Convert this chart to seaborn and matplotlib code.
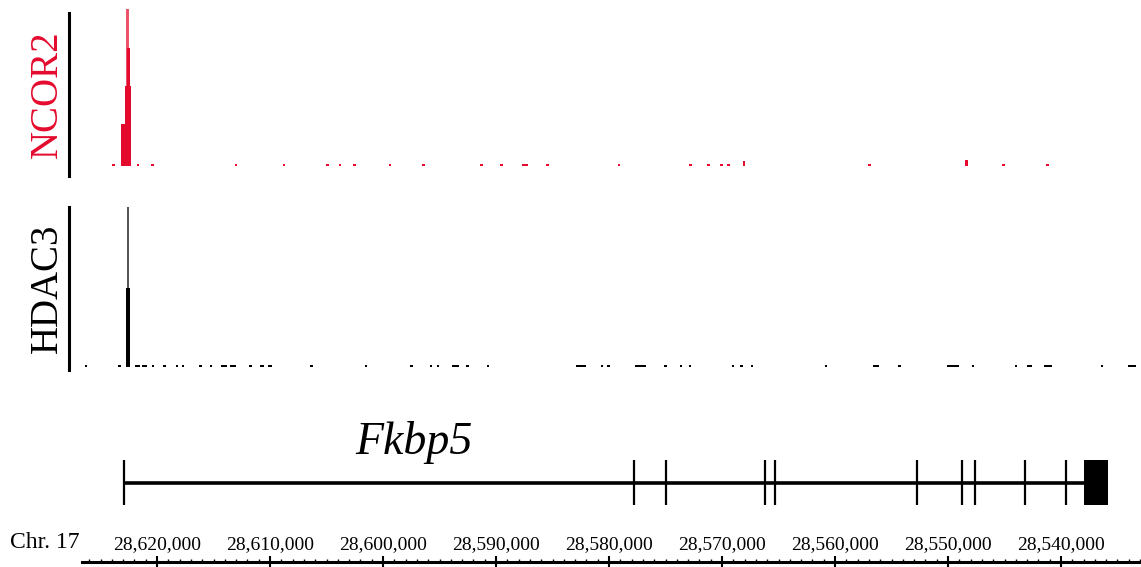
import matplotlib
matplotlib.use("Agg")
import matplotlib.pyplot as plt
import seaborn as sns
from matplotlib.ticker import MultipleLocator, FuncFormatter

# genome browser view on chr17, gene on the minus strand so coordinates run right to left
view_left = 28626640
view_right = 28532920

ncor2_peak_pos = [28623010, 28622580, 28622535, 28622640]
ncor2_peak_width = [410, 500, 290, 265]
ncor2_peak_val = [42, 80, 118, 157]

ncor2_dot_pos = [28623830, 28621690, 28620420, 28613010, 28608770, 28604940, 28603800,
                 28602500, 28599390, 28596430, 28591310, 28589490, 28587440, 28585460,
                 28579120, 28572760, 28571180, 28570080, 28569400, 28568030, 28556970,
                 28548360, 28545070, 28541190]
ncor2_dot_width = [250, 250, 250, 250, 250, 250, 250, 250, 250, 250, 250, 250, 500, 250,
                   250, 250, 250, 250, 250, 200, 250, 200, 250, 250]
ncor2_dot_val = [2, 2, 2, 2, 2, 2, 2, 2, 2, 2, 2, 2, 2, 2,
                 2, 2, 2, 2, 2, 5, 2, 6, 2, 2]

hdac3_peak_pos = [28622566, 28622593]
hdac3_peak_width = [400, 180]
hdac3_peak_val = [79, 160]

hdac3_dot_pos = [28626270, 28623310, 28621730, 28621110, 28620330, 28619345, 28618220,
                 28617670, 28616150, 28615230, 28614070, 28613270, 28611725, 28610710,
                 28610000, 28606340, 28601520, 28597490, 28595730, 28595110, 28593600,
                 28592530, 28590700, 28582480, 28580650, 28580040, 28577210, 28574990,
                 28573620, 28572860, 28569030, 28568270, 28567360, 28560790, 28556370,
                 28554290, 28549570, 28547810, 28544000, 28542775, 28541170, 28536370,
                 28533690]
hdac3_dot_width = [200, 200, 400, 400, 200, 200, 200, 200, 200, 200, 500, 500, 200, 400,
                   400, 200, 200, 200, 200, 200, 600, 200, 200, 900, 200, 200, 1000, 200,
                   200, 200, 200, 200, 200, 200, 500, 200, 1000, 200, 200, 500, 700, 200,
                   700]

gene_start = 28622920
gene_end = 28535840
exon_pos = [28622920, 28577790, 28574960, 28566200, 28565310, 28552740, 28548760,
            28547610, 28543190, 28539560]
utr_start = 28537965
utr_end = 28535840

red = "#e40a2d"
W, H = 1141, 567


def px_rect(left, top, right, bottom):
    return [left / W, 1 - bottom / H, (right - left) / W, (bottom - top) / H]


sns.set_style("white")
plt.rcParams["font.family"] = ["Liberation Serif", "DejaVu Serif"]
plt.rcParams["text.color"] = "black"
plt.rcParams["axes.labelcolor"] = "black"
plt.rcParams["xtick.color"] = "black"

fig = plt.figure(figsize=(W / 100, H / 100), dpi=100)

ax1 = fig.add_axes(px_rect(82, 13, 1141, 176))
ax2 = fig.add_axes(px_rect(82, 207, 1141, 370))
ax3 = fig.add_axes(px_rect(82, 460, 1141, 505))
ax4 = fig.add_axes(px_rect(82, 562, 1141, 567))

# NCOR2 track
ax1.bar(ncor2_dot_pos, ncor2_dot_val, width=ncor2_dot_width, color=red, linewidth=0)
ax1.bar(ncor2_peak_pos[:3], ncor2_peak_val[:3], width=ncor2_peak_width[:3], color=red, linewidth=0)
ax1.bar(ncor2_peak_pos[3], ncor2_peak_val[3], width=ncor2_peak_width[3], color=red, alpha=0.7,
        linewidth=0, clip_on=False)
ax1.set_ylim(-10, 153)

# HDAC3 track
ax2.bar(hdac3_dot_pos, [2.5] * len(hdac3_dot_pos), width=hdac3_dot_width, color="black", linewidth=0)
ax2.bar(hdac3_peak_pos[1], hdac3_peak_val[1], width=hdac3_peak_width[1], color="#555555", linewidth=0)
ax2.bar(hdac3_peak_pos[0], hdac3_peak_val[0], width=hdac3_peak_width[0], color="black", linewidth=0)
ax2.set_ylim(-3, 160)

for ax, name, col in [(ax1, "NCOR2", red), (ax2, "HDAC3", "black")]:
    ax.set_xlim(view_left, view_right)
    ax.set_xticks([])
    ax.set_yticks([])
    sns.despine(ax=ax, bottom=True)
    ax.spines["left"].set_position(("outward", 9.4))
    ax.spines["left"].set_linewidth(2.2)
    ax.spines["left"].set_color("black")
    ax.set_ylabel(name, fontsize=28, color=col, va="center")
    ax.yaxis.set_label_coords(-0.0325, 0.5)

# gene model
ax3.hlines(0, gene_start, utr_end, color="black", linewidth=2.6)
ax3.vlines(exon_pos, -1, 1, color="black", linewidth=1.6)
ax3.bar((utr_start + utr_end) / 2, 2, width=utr_start - utr_end, bottom=-1, color="black", linewidth=0)
ax3.set_xlim(view_left, view_right)
ax3.set_ylim(-1, 1)
ax3.axis("off")
ax3.text(0.3135, 1.38, "Fkbp5", transform=ax3.transAxes, fontsize=33, style="italic",
         ha="center", va="center")

# coordinate ruler
ax4.set_xlim(view_left, view_right)
ax4.set_yticks([])
for side in ["left", "right", "bottom"]:
    ax4.spines[side].set_visible(False)
ax4.spines["top"].set_linewidth(2.2)
ax4.spines["top"].set_color("black")
ax4.xaxis.set_ticks_position("top")
ax4.xaxis.set_major_locator(MultipleLocator(10000))
ax4.xaxis.set_minor_locator(MultipleLocator(1000))
ax4.xaxis.set_major_formatter(FuncFormatter(lambda v, p: f"{v:,.0f}"))
ax4.tick_params(axis="x", which="major", direction="inout", length=8.6, width=1.5, pad=2,
                labelsize=14, top=True, bottom=False, labeltop=True, labelbottom=False)
ax4.tick_params(axis="x", which="minor", direction="out", length=2.5, width=1,
                top=True, bottom=False)
fig.text(10 / W, 1 - 542 / H, "Chr. 17", fontsize=17, ha="left", va="center")

fig.savefig("out.png", dpi=100)
